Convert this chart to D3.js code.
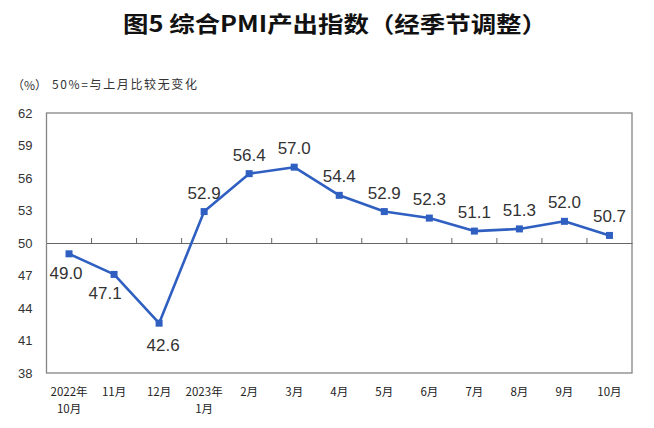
<!DOCTYPE html>
<html><head><meta charset="utf-8">
<script src="https://cdn.jsdelivr.net/npm/d3@7/dist/d3.min.js"></script>
<style>
body{margin:0;background:#fff;}
svg{display:block;}
</style></head>
<body>
<script>
const categories = ["2022年\n10月","11月","12月","2023年\n1月","2月","3月","4月","5月","6月","7月","8月","9月","10月"];
const values = [49.0,47.1,42.6,52.9,56.4,57.0,54.4,52.9,52.3,51.1,51.3,52.0,50.7];
const yTicks = [38,41,44,47,50,53,56,59,62];
const title = "图5 综合PMI产出指数（经季节调整）";
const unitLabel = "（%）";
const note = "50%=与上月比较无变化";

const W = 654, H = 428;
const m = {l:46.5, r:632, t:113, b:373};
const svg = d3.select("body").append("svg").attr("width",W).attr("height",H);

const x = d3.scaleBand().domain(d3.range(categories.length)).range([m.l, m.r]);
const y = d3.scaleLinear().domain([38,62]).range([m.b, m.t]);
const cx = i => x(i) + x.bandwidth()/2;

// title
svg.append("text").attr("x",335).attr("y",32).attr("text-anchor","middle")
  .attr("font-family","'Noto Sans CJK SC', sans-serif").attr("font-weight","bold")
  .attr("font-size",22).attr("fill","#111")
  .attr("textLength",424).attr("lengthAdjust","spacingAndGlyphs").text(title);

svg.append("text").attr("x",12).attr("y",90)
  .attr("font-family","'Noto Sans CJK SC', sans-serif").attr("font-size",12).attr("fill","#333").text(unitLabel);
svg.append("text").attr("x",52).attr("y",89)
  .attr("font-family","'Noto Sans CJK SC', sans-serif").attr("font-size",12).attr("fill","#333")
  .attr("textLength",145).attr("lengthAdjust","spacing").text(note);

// plot border
svg.append("rect").attr("x",m.l).attr("y",m.t).attr("width",m.r-m.l).attr("height",m.b-m.t)
  .attr("fill","none").attr("stroke","#858585").attr("stroke-width",1.3);

// y axis labels
const yAxis = d3.axisLeft(y).tickValues(yTicks).tickSize(0).tickPadding(14);
const gy = svg.append("g").attr("transform",`translate(${m.l},0)`).call(yAxis);
gy.select(".domain").remove();
gy.selectAll("text").attr("font-family","'Liberation Sans', Arial, sans-serif").attr("font-size",13).attr("fill","#333");

// 50 line with ticks
const gx = svg.append("g").attr("transform",`translate(0,${y(50)})`)
  .call(d3.axisTop(x).tickSize(0).tickFormat(""));
gx.select(".domain").attr("stroke","#666").attr("stroke-width",1);
const tickPos = d3.range(1,categories.length).map(i => x(i));
svg.selectAll(".t50").data(tickPos).enter().append("line")
  .attr("x1",d=>d).attr("x2",d=>d).attr("y1",y(50)).attr("y2",y(50)-5)
  .attr("stroke","#666").attr("stroke-width",1);

// x labels
const gl = svg.append("g");
categories.forEach((c,i)=>{
  const lines = c.split("\n");
  const t = gl.append("text").attr("text-anchor","middle")
    .attr("font-family","'Noto Sans CJK SC', sans-serif").attr("font-size",11.5).attr("fill","#222");
  lines.forEach((ln,j)=>{
    t.append("tspan").attr("x",cx(i)).attr("y",396 + j*17).text(ln);
  });
});

// line
const line = d3.line().x((d,i)=>cx(i)).y(d=>y(d));
svg.append("path").datum(values).attr("d",line).attr("fill","none")
  .attr("stroke","#2F5FC0").attr("stroke-width",2.6).attr("stroke-linejoin","round");
svg.selectAll(".mk").data(values).enter().append("rect")
  .attr("x",(d,i)=>cx(i)-3.5).attr("y",d=>y(d)-3.5).attr("width",7).attr("height",7)
  .attr("fill","#2F5FC0");

// data labels
svg.selectAll(".lbl").data(values).enter().append("text")
  .attr("text-anchor","middle")
  .attr("x",(d,i)=> cx(i) + (d<50 ? (i===0 ? -3 : (i===1?-9:4)) : 0))
  .attr("y",d=> d<50 ? y(d)+ (d<45?28:25) : y(d)-13)
  .attr("font-family","'Liberation Sans', Arial, sans-serif").attr("font-size",17).attr("fill","#333")
  .text(d=>d.toFixed(1));
</script>
</body></html>
